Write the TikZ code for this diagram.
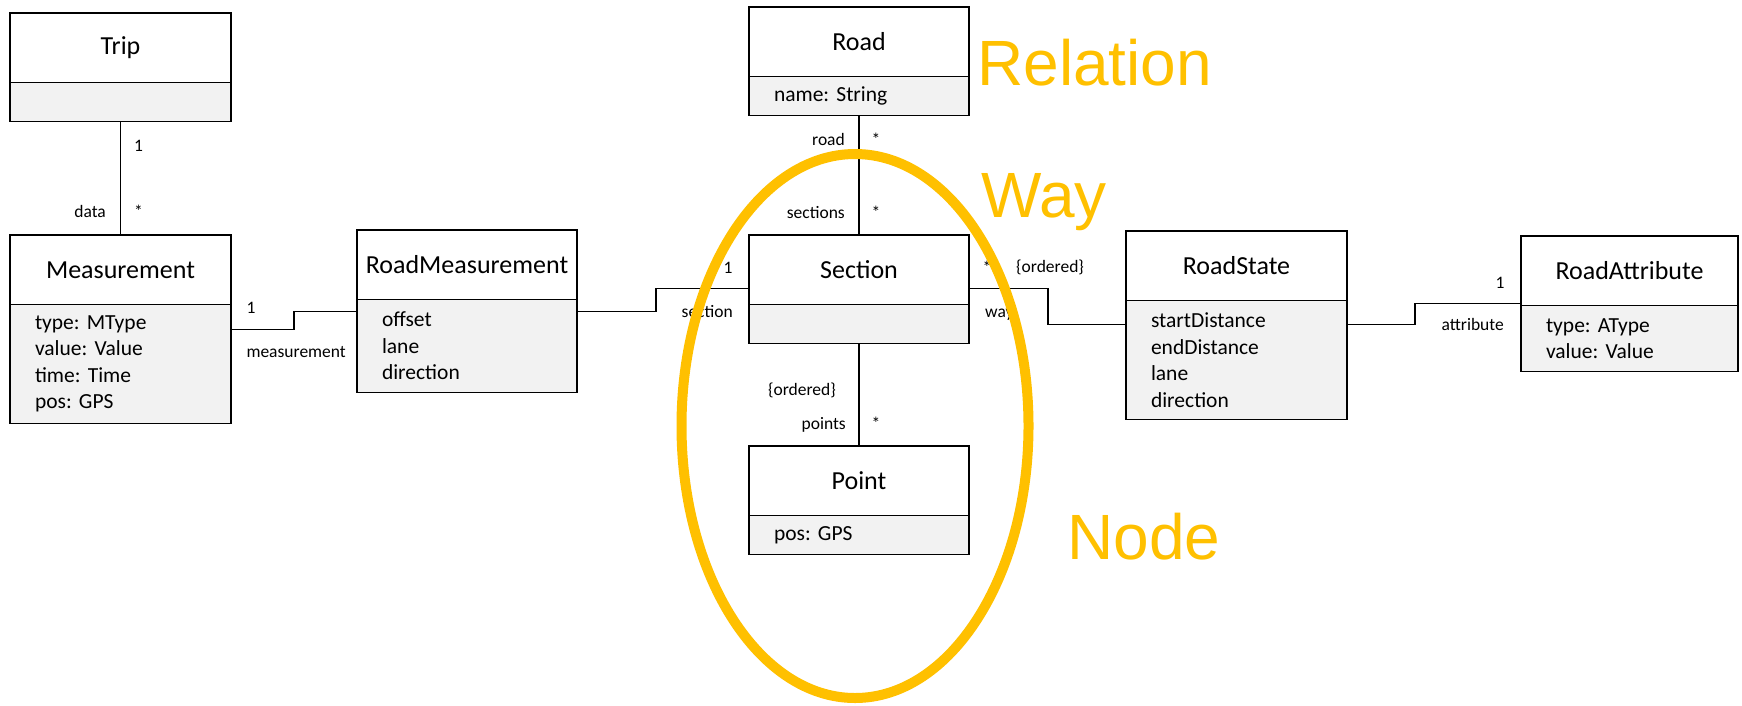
\documentclass[tikz,border=0pt]{standalone}
\usepackage{fontspec}
\setmainfont{Carlito}
\newfontfamily\hintfamily{Liberation Sans}
\usetikzlibrary{calc}
\frenchspacing

\definecolor{attrgray}{HTML}{F2F2F2}
\definecolor{gold}{HTML}{FFC000}

\newcommand\titlefont{\fontsize{26}{30}\selectfont}
\newcommand\attrfont{\fontsize{21.5}{26.5}\selectfont}
\newcommand\lblfont{\fontsize{17.5}{20}\selectfont}

\tikzset{
  classtitle/.style={draw, line width=1.8pt, fill=white, outer sep=0pt, inner sep=0pt,
    minimum height=69.5pt, anchor=north west, font=\titlefont},
  classattrs/.style={draw, line width=1.8pt, fill=attrgray, outer sep=0pt,
    inner xsep=25pt, inner ysep=0pt, align=left, anchor=north west, font=\attrfont},
  lbl/.style={inner sep=0pt, font=\lblfont},
  link/.style={line width=1.8pt},
  hint/.style={text=gold, inner sep=0pt, anchor=base west,
    font=\hintfamily\fontsize{64}{70}\selectfont},
}

% UML class: id, left x, top y, width, title, compartment height, attributes
\newcommand\umlclass[7]{%
  \pgfmathsetmacro\attrtw{#4-50}%
  \node[classtitle, minimum width=#4pt] (#1) at (#2,#3) {#5};
  \node[classattrs, minimum width=#4pt, text width=\attrtw pt, minimum height=#6pt]
    (#1-attr) at (#1.south west) {#7};
}

\begin{document}
\begin{tikzpicture}[x=1pt,y=-1pt]
\useasboundingbox (0,0) rectangle (1742,705);

% classes
\umlclass{trip}{10}{13}{221}{Trip}{39}{}
\umlclass{meas}{10}{235}{221}{Measurement}{119}{type: MType\\value: Value\\time: Time\\pos: GPS}
\umlclass{rm}{357}{230}{220}{RoadMeasurement}{93}{offset\\lane\\direction}
\umlclass{road}{749}{7}{220}{Road}{39}{name: String}
\umlclass{section}{749}{235}{220}{Section}{39}{}
\umlclass{point}{749}{446}{220}{Point}{39}{pos: GPS}
\umlclass{rs}{1126}{231}{221}{RoadState}{119}{startDistance\\endDistance\\lane\\direction}
\umlclass{ra}{1521}{236}{217}{RoadAttribute}{66}{type: AType\\value: Value}

% associations
\draw[link] (trip-attr.south) -- (meas.north);
\draw[link] ([yshift=-25pt]meas-attr.north east) -- ++(63,0) |- ([yshift=-12pt]rm-attr.north west);
\draw[link] ([yshift=-12pt]rm-attr.north east) -- ++(79,0) |- ([yshift=16pt]section.south west);
\draw[link] (road-attr.south) -- (section.north);
\draw[link] (section-attr.south) -- (point.north);
\draw[link] ([yshift=16pt]section.south east) -- ++(79,0) |- ([yshift=-24pt]rs-attr.north west);
\draw[link] ([yshift=-24pt]rs-attr.north east) -- ++(68,0) |- ([yshift=2pt]ra.south west);

% role names and multiplicities
\node[lbl, anchor=base west] (m1) at (134,151) {1};
\node[lbl, anchor=base west] (m2) at (134,217) {*};
\node[lbl, anchor=base east] (r1) at (106,217) {data};
\node[lbl, anchor=base] (m3) at (251,313) {1};
\node[lbl, anchor=base east] (r2) at (346,357) {measurement};
\node[lbl, anchor=base] (m4) at (728,273) {1};
\node[lbl, anchor=base east] (r3) at (733,317) {section};
\node[lbl, anchor=base east] (r4) at (845,145) {road};
\node[lbl, anchor=base] (m5) at (876,145) {*};
\node[lbl, anchor=base east] (r5) at (845,218) {sections};
\node[lbl, anchor=base] (m6) at (876,218) {*};
\node[lbl, anchor=base] (m7) at (987,273) {*};
\node[lbl, anchor=base west] (c1) at (1016,272) {\{ordered\}};
\node[lbl, anchor=base west] (r6) at (985,317) {way};
\node[lbl, anchor=base east] (c2) at (836,395) {\{ordered\}};
\node[lbl, anchor=base east] (r7) at (846,429) {points};
\node[lbl, anchor=base] (m8) at (876,429) {*};
\node[lbl, anchor=base] (m9) at (1500,288) {1};
\node[lbl, anchor=base east] (r8) at (1504,330) {attribute};

% OSM concept highlights
\draw[gold, line width=10pt] (855,426) ellipse [x radius=173.5pt, y radius=272pt];
\node[hint] (relation) at (977,85) {Relation};
\node[hint] (way) at (981,217) {Way};
\node[hint] (nodetxt) at (1067,559) {Node};
\end{tikzpicture}
\end{document}
